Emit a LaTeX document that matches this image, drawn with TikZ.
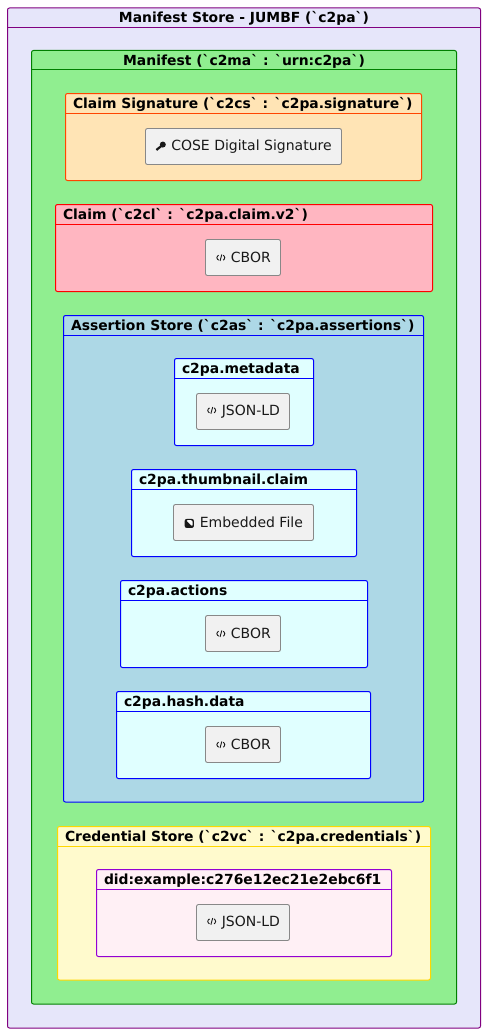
\documentclass[tikz,border=0pt]{standalone}
\usepackage{fontspec}
\newfontfamily\plainfont{DejaVu Sans}
\definecolor{storefill}{HTML}{E6E6FA}
\definecolor{storeline}{HTML}{800080}
\definecolor{manifestfill}{HTML}{90EE90}
\definecolor{manifestline}{HTML}{008000}
\definecolor{sigfill}{HTML}{FFE4B5}
\definecolor{sigline}{HTML}{FF4500}
\definecolor{claimfill}{HTML}{FFB6C1}
\definecolor{assertfill}{HTML}{ADD8E6}
\definecolor{itemfill}{HTML}{E0FFFF}
\definecolor{credfill}{HTML}{FFFACD}
\definecolor{credline}{HTML}{FFD700}
\definecolor{didfill}{HTML}{FFF0F5}
\definecolor{didline}{HTML}{9400D3}
\definecolor{leaffill}{HTML}{F1F1F1}
\definecolor{leafline}{HTML}{888888}
\newcommand{\iconcode}{\tikz[baseline=-4pt,x=1pt,y=1pt,line width=.9pt]{\path (0,0) rectangle (15.7,1);
\draw (3.4,3.4) -- (.8,.9) -- (3.4,-1.6); \draw (6.6,4.2) -- (4.8,-2.4); \draw (8,3.4) -- (10.4,.9) -- (8,-1.6);}}
\newcommand{\iconkey}{\tikz[baseline=-4pt,x=1pt,y=1pt]{\path (0,0) rectangle (15.7,1);
\fill (7.2,1.8) circle (3); \draw[line width=2.2pt] (6,.6) -- (.8,-3.6);}}
\newcommand{\iconimage}{\tikz[baseline=-4pt,x=1pt,y=1pt]{\path (0,0) rectangle (15.7,1);
\fill (.6,-4.2) rectangle (9.8,4.8); \fill[white] (1.8,3.6) -- (8.6,3.6) -- (8.6,-3) -- cycle;}}
\tikzset{
blockbox/.style={draw,rectangle,rounded corners=2pt,anchor=north west,inner sep=0pt,outer sep=0pt,line width=1pt},
leafbox/.style={draw=leafline,fill=leaffill,rectangle,rounded corners=2pt,inner sep=0pt,outer sep=0pt,line width=.9pt,minimum height=36pt,font=\plainfont\fontsize{14}{16}\selectfont,text=black!90},
titletext/.style={inner sep=0pt,outer sep=0pt,font=\plainfont\fontsize{13.9}{16}\selectfont\bfseries}
}
\begin{document}
\begin{tikzpicture}[x=1pt,y=-1pt]
\useasboundingbox (0,0) rectangle (486,1033);
\fill[white] (0,0) rectangle (486,1033);
% nested blocks
\node[blockbox,draw=storeline,fill=storefill,minimum width=473pt,minimum height=1020pt] (store) at (7.5,8) {};
\node[blockbox,draw=manifestline,fill=manifestfill,minimum width=425pt,minimum height=953.5pt] (manifest) at (31.5,50.5) {};
\node[blockbox,draw=sigline,fill=sigfill,minimum width=356pt,minimum height=87pt] (signature) at (65.5,93.5) {};
\node[blockbox,draw=red,fill=claimfill,minimum width=377pt,minimum height=87pt] (claim) at (55.5,204.5) {};
\node[blockbox,draw=blue,fill=assertfill,minimum width=360pt,minimum height=486.5pt] (assertion) at (63.5,315.5) {};
\node[blockbox,draw=blue,fill=itemfill,minimum width=139pt,minimum height=87pt] (metadata) at (174.5,358.5) {};
\node[blockbox,draw=blue,fill=itemfill,minimum width=225pt,minimum height=87pt] (thumbnail) at (131.5,469.5) {};
\node[blockbox,draw=blue,fill=itemfill,minimum width=247pt,minimum height=87pt] (actions) at (120.5,580.5) {};
\node[blockbox,draw=blue,fill=itemfill,minimum width=254pt,minimum height=87pt] (hashdata) at (116.5,691.5) {};
\node[blockbox,draw=credline,fill=credfill,minimum width=373pt,minimum height=153.5pt] (credential) at (57.5,826.5) {};
\node[blockbox,draw=didline,fill=didfill,minimum width=295pt,minimum height=87pt] (did) at (96.5,869.5) {};
% header rules
\foreach \b/\c in {store/storeline,manifest/manifestline,signature/sigline,claim/red,assertion/blue,metadata/blue,thumbnail/blue,actions/blue,hashdata/blue,credential/credline,did/didline}
  \draw[\c,line width=1pt] ([yshift=-19.5pt]\b.north west) -- ([yshift=-19.5pt]\b.north east);
% titles
\node[titletext,anchor=base] (storetitle) at ([yshift=-15pt]store.north) {Manifest Store - JUMBF (`c2pa`)};
\node[titletext,anchor=base] (manifesttitle) at ([yshift=-15pt]manifest.north) {Manifest (`c2ma` : `urn:c2pa`)};
\foreach \b/\t in {signature/Claim Signature (`c2cs` : `c2pa.signature`),claim/Claim (`c2cl` : `c2pa.claim.v2`),assertion/Assertion Store (`c2as` : `c2pa.assertions`),metadata/c2pa.metadata,thumbnail/c2pa.thumbnail.claim,actions/c2pa.actions,hashdata/c2pa.hash.data,credential/Credential Store (`c2vc` : `c2pa.credentials`),did/did:example:c276e12ec21e2ebc6f1}
  \node[titletext,anchor=base west] (\b title) at ([xshift=7.5pt,yshift=-15pt]\b.north west) {\t};
% contents
\node[leafbox,minimum width=196pt] (cose) at (243.5,146.5) {\iconkey COSE Digital Signature};
\node[leafbox,minimum width=75pt] (claimcbor) at (243,257.5) {\iconcode CBOR};
\node[leafbox,minimum width=93pt] (metajson) at (243,411.5) {\iconcode JSON-LD};
\node[leafbox,minimum width=140pt] (embedded) at (243.5,522.5) {\iconimage Embedded File};
\node[leafbox,minimum width=75pt] (actionscbor) at (243,633.5) {\iconcode CBOR};
\node[leafbox,minimum width=75pt] (hashcbor) at (243,744.5) {\iconcode CBOR};
\node[leafbox,minimum width=93pt] (didjson) at (243,922.5) {\iconcode JSON-LD};
\end{tikzpicture}
\end{document}
